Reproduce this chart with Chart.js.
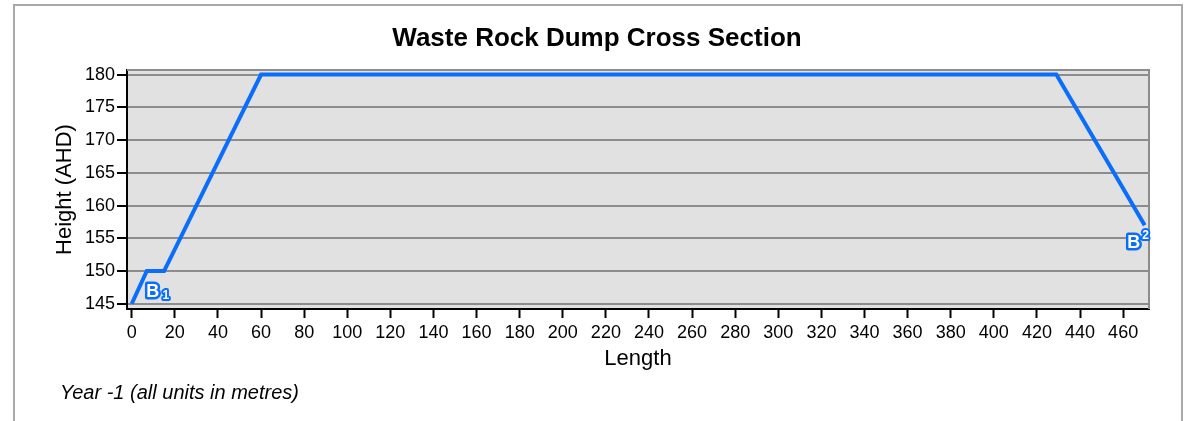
<!DOCTYPE html>
<html>
<head>
<meta charset="utf-8">
<script src="https://cdn.jsdelivr.net/npm/chart.js@4.4.1/dist/chart.umd.min.js"></script>
<style>
  html, body { margin: 0; padding: 0; background: #fff; }
  #wrap { position: relative; width: 1186px; height: 421px; }
</style>
</head>
<body>
<div id="wrap"><canvas id="section-chart"></canvas></div>
<script>
// profile vertices (metres)
const lengths = [0, 7, 15, 60, 429, 470];
const heights = [145, 150, 150, 180, 180, 157];
const markerNames = ["B", "B"];
const markerIndex = ["1", "2"];

Chart.defaults.font.family = "'Liberation Sans', Arial, sans-serif";
Chart.defaults.color = "#000";

const points = lengths.map((x, i) => ({ x: x, y: heights[i] }));

// frame, title, plot background, gray top/right border, footer note
const decor = {
  id: "decor",
  beforeDraw: (chart) => {
    const ctx = chart.ctx;
    const a = chart.chartArea;
    ctx.save();
    ctx.strokeStyle = "#a9a9a9";
    ctx.lineWidth = 2;
    ctx.beginPath();
    ctx.moveTo(14, 421);
    ctx.lineTo(14, 5);
    ctx.lineTo(1182, 5);
    ctx.lineTo(1182, 421);
    ctx.stroke();
    ctx.fillStyle = "#e1e1e1";
    ctx.fillRect(a.left, a.top, a.right - a.left, a.bottom - a.top);
    ctx.restore();
  },
  beforeDatasetsDraw: (chart) => {
    const ctx = chart.ctx;
    const a = chart.chartArea;
    ctx.save();
    ctx.strokeStyle = "#8c8c8c";
    ctx.lineWidth = 2;
    ctx.beginPath();
    ctx.moveTo(a.left, a.top);
    ctx.lineTo(a.right, a.top);
    ctx.lineTo(a.right, a.bottom);
    ctx.stroke();
    ctx.restore();
  },
  afterDraw: (chart) => {
    const ctx = chart.ctx;
    ctx.save();
    ctx.fillStyle = "#000";
    ctx.textBaseline = "middle";
    ctx.textAlign = "center";
    ctx.font = "bold 26px 'Liberation Sans', Arial, sans-serif";
    ctx.fillText("Waste Rock Dump Cross Section", 597, 39);
    ctx.textAlign = "left";
    ctx.font = "italic 20px 'Liberation Sans', Arial, sans-serif";
    ctx.fillText("Year -1 (all units in metres)", 60, 393);
    ctx.restore();
  },
};

// B1 / B2 end markers
const markers = {
  id: "markers",
  afterDatasetsDraw: (chart) => {
    const ctx = chart.ctx;
    const meta = chart.getDatasetMeta(0);
    const first = meta.data[0];
    const last = meta.data[meta.data.length - 1];
    const spots = [
      { px: first.x + 21, py: first.y - 12, sx: 13, sy: 4 },
      { px: last.x - 11, py: last.y + 18, sx: 12, sy: -7 },
    ];
    ctx.save();
    ctx.textAlign = "center";
    ctx.textBaseline = "middle";
    ctx.lineJoin = "round";
    ctx.strokeStyle = "#0a6efa";
    ctx.fillStyle = "#fff";
    spots.forEach((s, i) => {
      ctx.lineWidth = 5;
      ctx.font = "bold 18px 'Liberation Sans', Arial, sans-serif";
      ctx.strokeText(markerNames[i], s.px, s.py);
      ctx.fillText(markerNames[i], s.px, s.py);
      ctx.lineWidth = 4;
      ctx.font = "bold 12px 'Liberation Sans', Arial, sans-serif";
      ctx.strokeText(markerIndex[i], s.px + s.sx, s.py + s.sy);
      ctx.fillText(markerIndex[i], s.px + s.sx, s.py + s.sy);
    });
    ctx.restore();
  },
};

new Chart(document.getElementById("section-chart"), {
  type: "scatter",
  data: {
    datasets: [
      {
        data: points,
        showLine: true,
        borderColor: "#0a6efa",
        borderWidth: 4,
        pointRadius: 0,
        fill: false,
      },
    ],
  },
  options: {
    responsive: true,
    maintainAspectRatio: false,
    animation: false,
    layout: { padding: { left: 0, right: 37, top: 70, bottom: 0 } },
    scales: {
      x: {
        type: "linear",
        min: -2.2,
        max: 472,
        afterFit: (s) => { s.height = 112; },
        ticks: { stepSize: 20, includeBounds: false, padding: 4, font: { size: 18 } },
        grid: { drawOnChartArea: false, tickColor: "#000", tickLength: 9, tickWidth: 2 },
        border: { color: "#000", width: 2 },
        title: { display: true, text: "Length", font: { size: 22 }, padding: { top: 0, bottom: 49 } },
      },
      y: {
        min: 144.2,
        max: 180.7,
        afterFit: (s) => { s.width = 127; },
        ticks: { stepSize: 5, includeBounds: false, padding: 2, font: { size: 18 } },
        grid: { color: "#8c8c8c", lineWidth: 2, tickColor: "#000", tickLength: 10, tickWidth: 2 },
        border: { color: "#000", width: 2 },
        title: { display: true, text: "Height (AHD)", font: { size: 22 }, padding: { top: 52, bottom: 0 } },
      },
    },
    plugins: {
      legend: { display: false },
      tooltip: { enabled: false },
      title: { display: false },
    },
  },
  plugins: [decor, markers],
});
</script>
</body>
</html>
